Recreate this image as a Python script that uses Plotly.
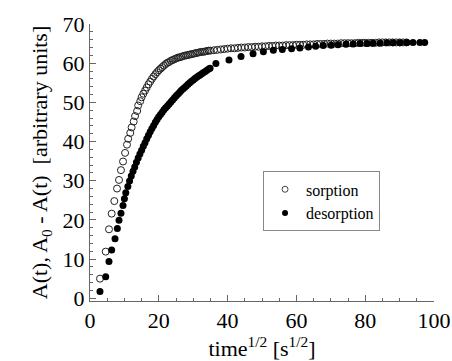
import plotly.graph_objects as go

# sorption (open circles)
sorp_x = [2.9, 4.56, 5.52, 6.3, 7.07, 7.85, 8.43, 9.0, 9.6, 10.2, 10.76, 11.1, 11.7, 12.1, 12.7, 13.1, 13.7, 14.0, 14.6,
          15.0, 15.5, 16.0, 16.5, 17.0, 17.5, 18.0, 18.5, 19.0, 19.5, 20.0, 20.5, 21.0, 21.5, 22.0, 22.5, 23.0, 23.5,
          24.0, 24.5, 25.0, 25.5, 26.0, 26.5, 27.0, 27.5, 28.0, 28.5, 29.0, 29.5, 30.0, 30.5, 31.0, 31.5, 32.0, 32.5,
          33.0, 33.5, 34.0, 34.5, 35.0,
          36, 37, 38, 39, 40, 41, 42, 43, 44, 45, 46, 47, 48, 49, 50, 51, 52, 53, 54, 55, 56, 57, 58, 59, 60,
          61, 62, 63, 64, 65, 66, 67, 68, 69, 70, 71, 72, 73, 74, 75, 76, 77, 78, 79, 80, 81, 82, 83, 84, 85,
          86, 87, 88, 89, 90, 91, 92]
sorp_y = [5.0, 11.9, 17.6, 21.6, 24.8, 28.0, 30.2, 32.7, 34.9, 37.1, 39.2, 40.7, 42.2, 43.6, 45.1, 46.5, 47.8, 49.2, 50.3,
          51.3, 52.2, 53.0, 53.8, 54.6, 55.3, 56.0, 56.6, 57.2, 57.7, 58.2, 58.6, 59.0, 59.4, 59.8, 60.1, 60.3, 60.6,
          60.8, 61.0, 61.2, 61.4, 61.5, 61.6, 61.8, 61.9, 62.0, 62.1, 62.2, 62.3, 62.4, 62.5, 62.6, 62.7, 62.8, 62.9,
          62.9, 63.0, 63.1, 63.2, 63.2,
          63.3, 63.4, 63.5, 63.6, 63.7, 63.8, 63.8, 63.9, 64.0, 64.0, 64.1, 64.1, 64.2, 64.2, 64.3, 64.3, 64.4, 64.4,
          64.5, 64.5, 64.5, 64.6, 64.6, 64.6, 64.7, 64.7, 64.7, 64.8, 64.8, 64.8, 64.9, 64.9, 64.9, 65.0, 65.0, 65.0,
          65.0, 65.1, 65.1, 65.1, 65.1, 65.1, 65.2, 65.2, 65.2, 65.2, 65.2, 65.2, 65.3, 65.3, 65.3, 65.3, 65.3, 65.3,
          65.3, 65.3, 65.3]

# desorption (filled circles)
desorp_x = [2.9, 4.56, 5.52, 6.3, 7.27, 7.95, 8.43, 9.0, 9.6, 10.0, 10.4,
            11.0, 11.5, 12.0, 12.5, 13.0, 13.5, 14.0, 14.5, 15.0, 15.5, 16.0, 16.5, 17.0, 17.5, 18.0, 18.5, 19.0,
            19.5, 20.0, 20.5, 21.0, 21.5, 22.0, 22.5, 23.0, 23.5, 24.0, 24.5, 25.0, 25.5, 26.0, 26.5, 27.0, 27.5,
            28.0, 28.5, 29.0, 29.5, 30.0, 30.5, 31.0, 31.5, 32.0, 32.5, 33.0, 33.5, 34.0, 34.5, 34.9,
            36.6, 40.4, 43.9, 47.4, 50.4, 53.3, 55.9, 58.6, 61.0, 63.5, 65.6, 67.8, 70.1, 72.1, 74.4, 76.5, 78.5,
            80.5, 82.3, 84.3, 86.3, 88.1, 90.1, 92.1, 93.9, 95.9, 97.3]
desorp_y = [1.7, 5.5, 9.4, 12.3, 15.2, 17.8, 19.9, 21.7, 23.7, 25.4, 26.9,
            28.5, 29.9, 31.2, 32.4, 33.5, 34.7, 35.8, 36.8, 37.8, 38.8, 39.7, 40.7, 41.6, 42.5, 43.3, 44.1, 44.9,
            45.6, 46.3, 46.9, 47.5, 48.1, 48.6, 49.1, 49.6, 50.1, 50.6, 51.1, 51.6, 52.1, 52.5, 53.0, 53.4, 53.8,
            54.2, 54.6, 55.0, 55.4, 55.7, 56.1, 56.4, 56.7, 57.0, 57.3, 57.6, 57.9, 58.2, 58.5, 58.7,
            59.9, 60.8, 61.7, 62.4, 62.9, 63.3, 63.5, 63.7, 63.9, 64.1, 64.3, 64.5, 64.6, 64.7, 64.8, 64.9, 65.0,
            65.0, 65.1, 65.1, 65.2, 65.2, 65.2, 65.3, 65.3, 65.3, 65.3]

x_ticks = [0, 20, 40, 60, 80, 100]
y_ticks = [0, 10, 20, 30, 40, 50, 60, 70]

FONT = "Liberation Serif, Times New Roman, serif"

fig = go.Figure()
fig.add_trace(go.Scatter(x=sorp_x, y=sorp_y, mode="markers", showlegend=False,
                         marker=dict(symbol="circle-open", size=7, color="#222", line=dict(width=1, color="#222"))))
fig.add_trace(go.Scatter(x=desorp_x, y=desorp_y, mode="markers", showlegend=False,
                         marker=dict(symbol="circle", size=7, color="black")))
# legend entries
fig.add_trace(go.Scatter(x=[None], y=[None], mode="markers", name="sorption",
                         marker=dict(symbol="circle-open", size=6, color="#444", line=dict(width=1, color="#444"))))
fig.add_trace(go.Scatter(x=[None], y=[None], mode="markers", name="desorption",
                         marker=dict(symbol="circle", size=6, color="black")))

axis_common = dict(showline=True, linecolor="#666", linewidth=1, ticks="inside", ticklen=6,
                   tickcolor="#666", showgrid=False, zeroline=False,
                   tickfont=dict(family=FONT, size=22, color="black"))

fig.update_xaxes(range=[0, 100], tickvals=x_ticks, ticktext=[str(v) for v in x_ticks],
                 minor=dict(dtick=5, ticklen=3, ticks="inside", tickcolor="#666", tick0=0),
                 title=dict(text="time<sup>1/2</sup> [s<sup>1/2</sup>]",
                            font=dict(family=FONT, size=22, color="black"), standoff=4),
                 **axis_common)
fig.update_yaxes(range=[-0.7, 70], tickvals=y_ticks, ticktext=[str(v) for v in y_ticks],
                 minor=dict(dtick=2, ticklen=3, ticks="inside", tickcolor="#666", tick0=0),
                 title=dict(text="A(t), A<sub>0</sub> - A(t)\u00a0\u00a0[arbitrary units]",
                            font=dict(family=FONT, size=22, color="black"), standoff=8),
                 **axis_common)

fig.update_layout(
    width=452, height=361,
    margin=dict(l=90, r=18, t=24, b=60, autoexpand=False),
    paper_bgcolor="white", plot_bgcolor="white",
    legend=dict(x=0.503, y=0.468, xanchor="left", yanchor="top",
                bgcolor="white", bordercolor="#888", borderwidth=1,
                font=dict(family=FONT, size=16, color="black"),
                itemwidth=32, tracegroupgap=0),
)

fig.write_html("out.html", config={"displayModeBar": False},
               post_script="document.body.style.margin='0';document.body.style.overflow='hidden';")
